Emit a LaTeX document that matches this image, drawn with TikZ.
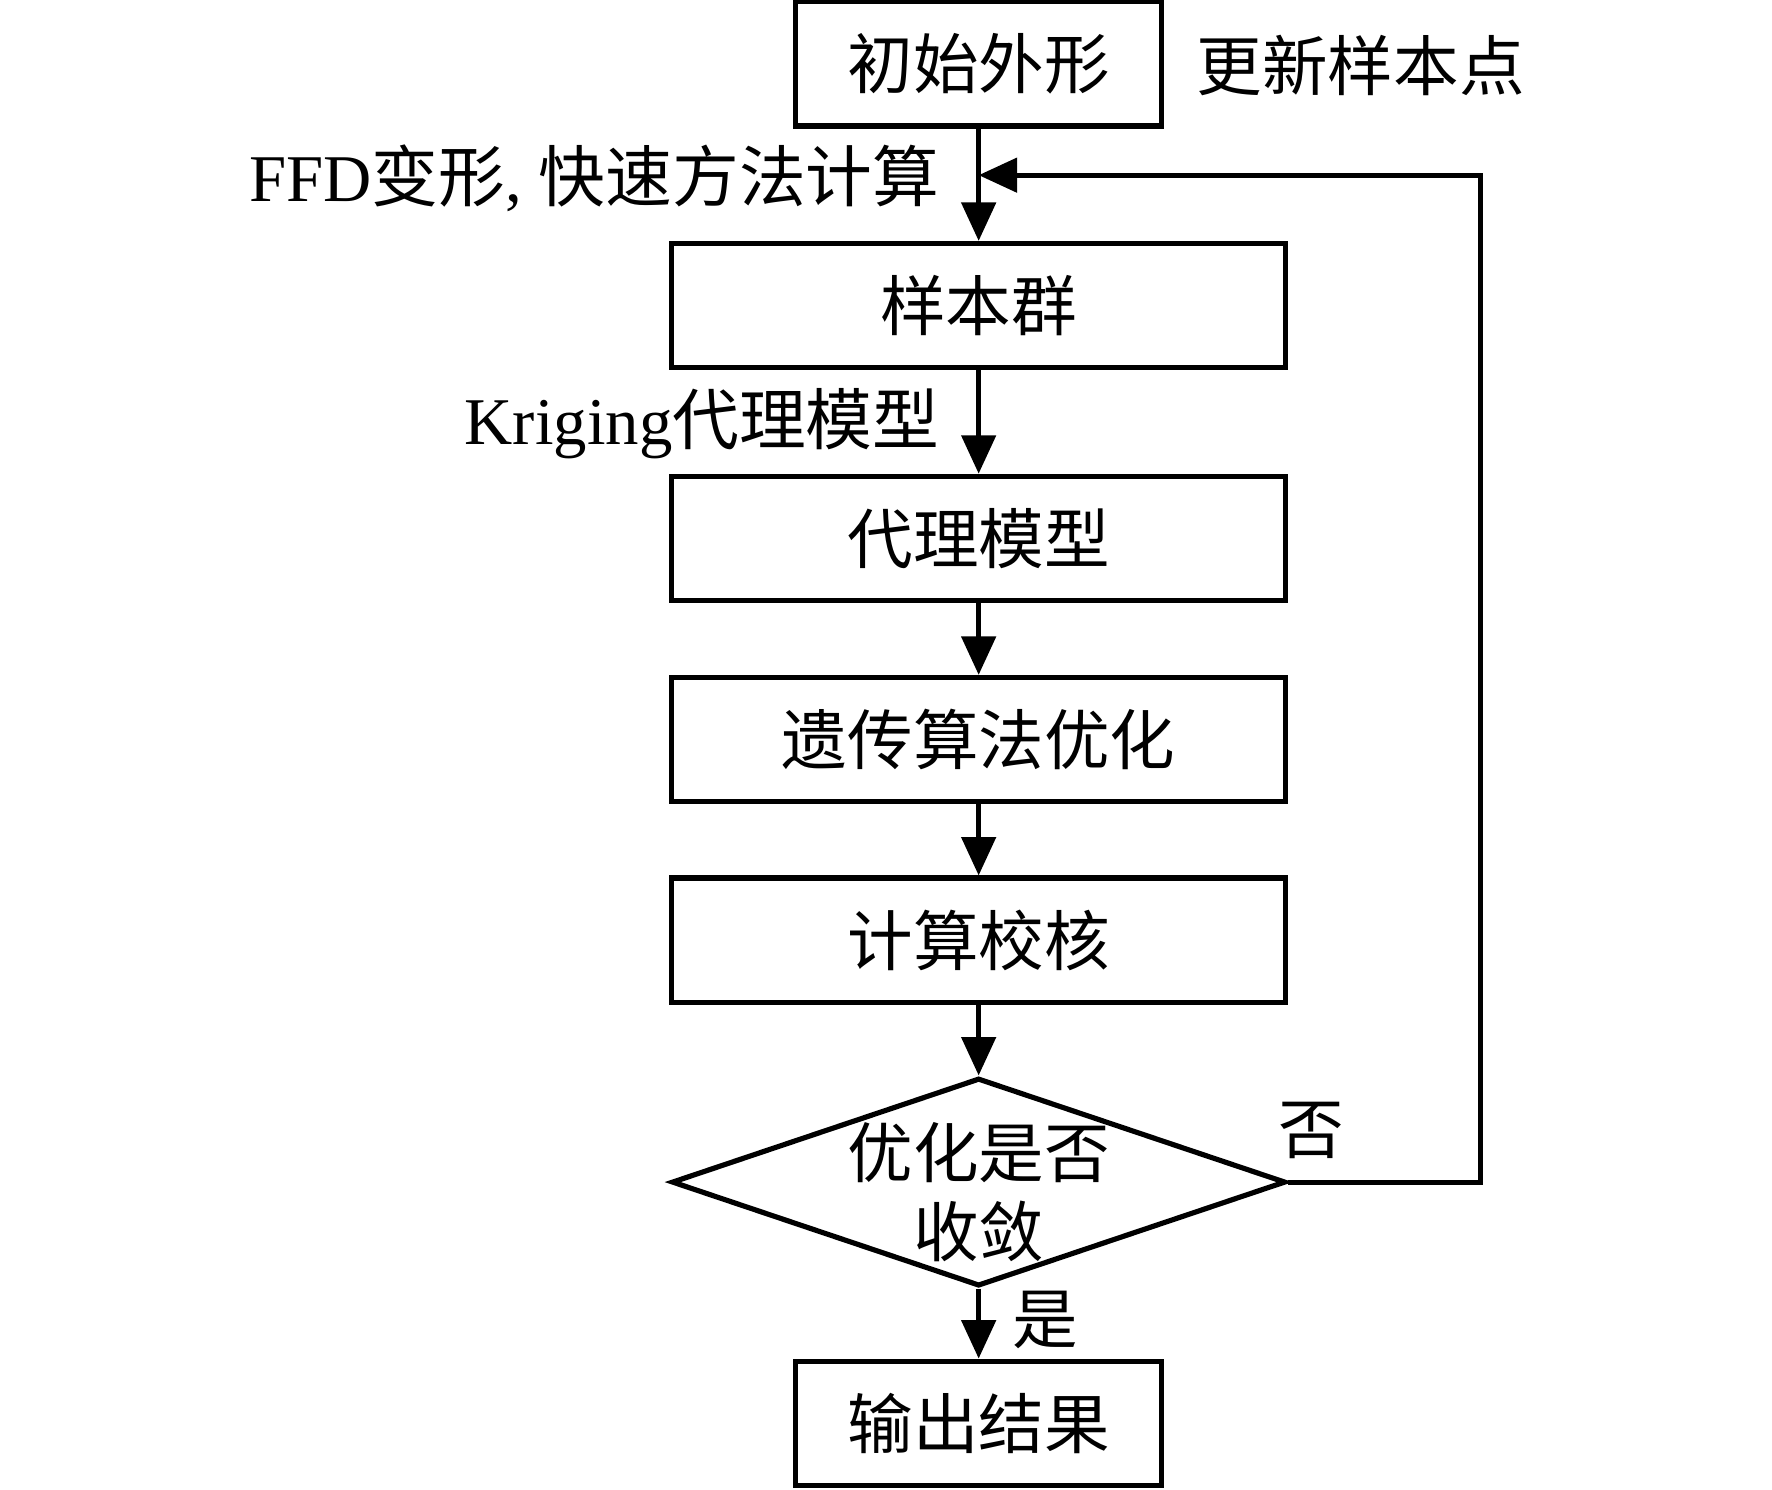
\documentclass[tikz,border=0pt]{standalone}
\usepackage{fontspec}
\setmainfont{Liberation Serif}
\newfontfamily\cjk{Noto Sans CJK SC}
\usetikzlibrary{arrows.meta,shapes.geometric}
\begin{document}
\begin{tikzpicture}[x=0.01cm,y=-0.01cm,
  txt/.style={font=\fontsize{16.8}{20}\selectfont},
  box/.style={draw,line width=1.3pt,minimum width=5.43cm,minimum height=1.10cm,inner sep=0pt,font=\cjk\fontsize{16.5}{20}\selectfont},
  sbox/.style={box,minimum width=3.24cm},
  dia/.style={draw,line width=1.3pt,diamond,minimum width=5.43cm,minimum height=1.84cm,inner sep=0pt},
  arr/.style={line width=1.3pt,-{Triangle[length=0.34cm,width=0.3cm]}},
  lbl/.style={inner sep=0pt,font=\cjk\fontsize{16.5}{20}\selectfont}]
\useasboundingbox (0,0) rectangle (1568,1318);
\node[sbox] (init) at (866,56.5) {初始外形};
\node[box] (sample) at (866,270.5) {样本群};
\node[box] (surr) at (866,476.5) {代理模型};
\node[box] (ga) at (866,654.5) {遗传算法优化};
\node[box] (check) at (866,832) {计算校核};
\node[dia] (conv) at (866,1046) {};
\node[lbl,align=center,font=\cjk\fontsize{16.5}{20}\selectfont] (convt) at (866,1055) {优化是否\\收敛};
\node[sbox] (out) at (866,1259.5) {输出结果};
\node[lbl] (upd) at (1204,58) {更新样本点};
\node[inner sep=0pt,txt,anchor=east] (ffd) at (832,158) {FFD{\cjk 变形}, {\cjk 快速方法计算}};
\node[inner sep=0pt,txt,anchor=east] (krig) at (832,375) {Kriging{\cjk 代理模型}};
\node[lbl] (no) at (1160,1000) {否};
\node[lbl] (yes) at (925,1168) {是};
\coordinate (fbr) at (1310,155);
\coordinate (fbl) at (866,155);
\draw[arr] (init) -- (sample);
\draw[arr] (sample) -- (surr);
\draw[arr] (surr) -- (ga);
\draw[arr] (ga) -- (check);
\draw[arr] (check) -- (conv);
\draw[arr] (conv) -- (out);
\draw[arr] (conv.east) -| (fbr) -- (fbl);
\end{tikzpicture}
\end{document}
